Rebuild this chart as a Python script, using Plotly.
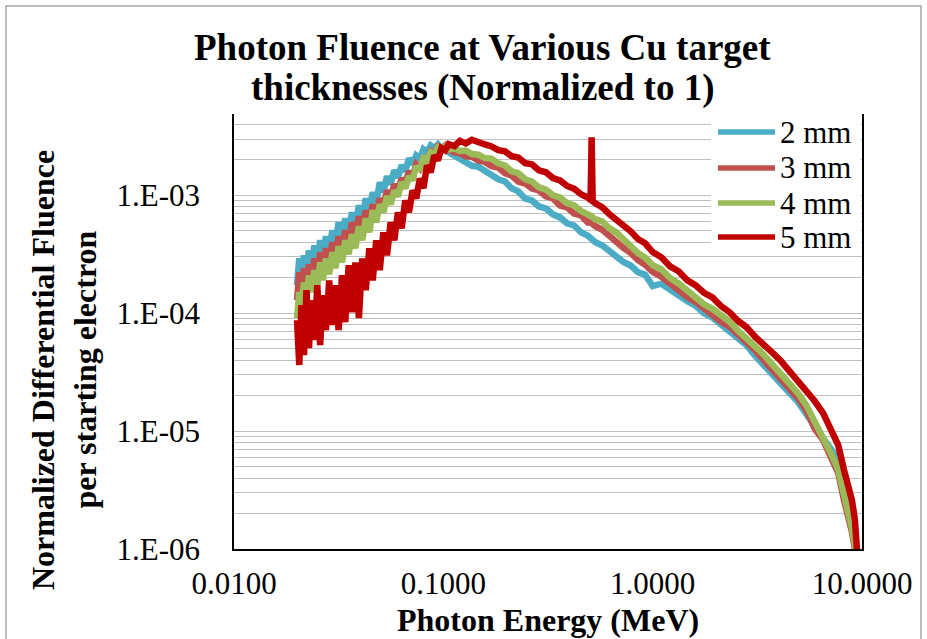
import plotly.graph_objects as go

# ---------------- data ----------------
energy_mev = [
    0.0200, 0.0205, 0.0210, 0.0216, 0.0222, 0.0228, 0.0235, 0.0242, 0.0250, 0.0258,
    0.0266, 0.0275, 0.0285, 0.0295, 0.0305, 0.0316, 0.0328, 0.0340, 0.0353, 0.0366,
    0.0380, 0.0395, 0.0410, 0.0426, 0.0443, 0.0460, 0.0478, 0.0497, 0.0517, 0.0538,
    0.0560, 0.0583, 0.0607, 0.0632, 0.0658, 0.0685, 0.0713, 0.0742, 0.0772, 0.0803,
    0.0836, 0.0870, 0.0905, 0.0942, 0.0980, 0.1020,
    0.106, 0.113, 0.120, 0.128, 0.137, 0.147, 0.158, 0.170, 0.183, 0.197,
    0.212, 0.228, 0.246, 0.265, 0.286, 0.309, 0.334, 0.361, 0.390, 0.421,
    0.455, 0.490, 0.505, 0.511, 0.517, 0.530, 0.575, 0.620, 0.670, 0.725,
    0.785, 0.850, 0.920, 1.00, 1.10, 1.21, 1.33, 1.46, 1.60, 1.76,
    1.93, 2.12, 2.33, 2.56, 2.81, 3.09, 3.39, 3.72, 4.09, 4.49,
    4.93, 5.41, 5.94, 6.52, 7.16, 7.70, 8.20, 8.60, 8.95, 9.25, 9.50,
]

fluence_2mm = [
    1.73e-4, 2.92e-4, 1.90e-4, 3.10e-4, 2.14e-4, 3.42e-4, 2.41e-4, 3.77e-4, 2.70e-4, 4.16e-4,
    3.04e-4, 4.49e-4, 3.42e-4, 5.05e-4, 3.84e-4, 5.91e-4, 4.32e-4, 6.38e-4, 4.86e-4, 7.18e-4,
    5.46e-4, 8.23e-4, 6.14e-4, 9.43e-4, 7.46e-4, 1.06e-3, 8.73e-4, 1.29e-3, 1.06e-3, 1.45e-3,
    1.24e-3, 1.63e-3, 1.42e-3, 1.80e-3, 1.60e-3, 2.06e-3, 1.83e-3, 2.18e-3, 2.06e-3, 2.46e-3,
    2.32e-3, 2.65e-3, 2.51e-3, 2.70e-3, 2.46e-3, 2.55e-3,
    2.32e-3, 2.18e-3, 2.02e-3, 1.93e-3, 1.78e-3, 1.75e-3, 1.61e-3, 1.53e-3, 1.37e-3, 1.31e-3,
    1.15e-3, 1.08e-3, 9.40e-4, 9.05e-4, 8.05e-4, 7.75e-4, 6.90e-4, 6.50e-4, 5.80e-4, 5.55e-4,
    4.85e-4, 4.55e-4, 4.32e-4, 4.24e-4, 4.16e-4, 4.02e-4, 3.75e-4, 3.36e-4, 3.08e-4, 2.72e-4,
    2.54e-4, 2.23e-4, 2.12e-4, 1.70e-4, 1.78e-4, 1.58e-4, 1.44e-4, 1.27e-4, 1.16e-4, 1.00e-4,
    9.20e-5, 7.95e-5, 7.15e-5, 6.05e-5, 5.35e-5, 4.35e-5, 3.68e-5, 3.00e-5, 2.58e-5, 2.12e-5,
    1.78e-5, 1.38e-5, 1.07e-5, 8.70e-6, 6.90e-6, 5.50e-6, 4.00e-6, 3.00e-6, 1.95e-6, 1.32e-6, 8.9e-7,
]

fluence_3mm = [
    1.29e-4, 2.23e-4, 1.51e-4, 2.41e-4, 1.70e-4, 2.60e-4, 1.90e-4, 2.92e-4, 2.14e-4, 3.29e-4,
    2.41e-4, 3.56e-4, 2.70e-4, 4.00e-4, 3.04e-4, 4.49e-4, 3.56e-4, 5.05e-4, 4.00e-4, 5.91e-4,
    4.49e-4, 6.64e-4, 5.25e-4, 7.46e-4, 5.91e-4, 8.39e-4, 6.90e-4, 9.43e-4, 8.07e-4, 1.10e-3,
    9.43e-4, 1.24e-3, 1.10e-3, 1.39e-3, 1.26e-3, 1.60e-3, 1.45e-3, 1.83e-3, 1.70e-3, 2.06e-3,
    1.98e-3, 2.36e-3, 2.27e-3, 2.60e-3, 2.51e-3, 2.65e-3,
    2.46e-3, 2.32e-3, 2.29e-3, 2.14e-3, 2.12e-3, 1.98e-3, 1.92e-3, 1.77e-3, 1.72e-3, 1.54e-3,
    1.47e-3, 1.31e-3, 1.26e-3, 1.14e-3, 1.10e-3, 9.80e-4, 9.40e-4, 8.20e-4, 7.90e-4, 7.00e-4,
    6.75e-4, 5.90e-4, 5.91e-4, 5.79e-4, 5.68e-4, 5.50e-4, 5.10e-4, 4.50e-4, 4.12e-4, 3.58e-4,
    3.25e-4, 2.83e-4, 2.58e-4, 2.24e-4, 2.04e-4, 1.78e-4, 1.58e-4, 1.38e-4, 1.25e-4, 1.09e-4,
    9.70e-5, 8.50e-5, 7.70e-5, 6.60e-5, 5.75e-5, 4.85e-5, 4.00e-5, 3.35e-5, 2.82e-5, 2.32e-5,
    1.92e-5, 1.51e-5, 1.05e-5, 8.40e-6, 5.90e-6, 4.40e-6, 2.60e-6, 1.95e-6, 1.40e-6, 1.00e-6, 7.4e-7,
]

fluence_4mm = [
    9.08e-5, 1.51e-4, 1.17e-4, 1.83e-4, 1.34e-4, 2.10e-4, 1.51e-4, 2.32e-4, 1.73e-4, 2.70e-4,
    1.90e-4, 2.92e-4, 2.14e-4, 3.29e-4, 2.41e-4, 3.70e-4, 2.70e-4, 4.16e-4, 3.16e-4, 4.67e-4,
    3.56e-4, 5.46e-4, 4.16e-4, 6.39e-4, 4.86e-4, 7.46e-4, 5.91e-4, 8.39e-4, 7.18e-4, 9.81e-4,
    8.39e-4, 1.10e-3, 9.81e-4, 1.29e-3, 1.15e-3, 1.45e-3, 1.34e-3, 1.76e-3, 1.63e-3, 2.06e-3,
    1.98e-3, 2.32e-3, 2.23e-3, 2.55e-3, 2.41e-3, 2.60e-3,
    2.46e-3, 2.50e-3, 2.38e-3, 2.40e-3, 2.24e-3, 2.21e-3, 2.07e-3, 2.05e-3, 1.87e-3, 1.79e-3,
    1.60e-3, 1.54e-3, 1.37e-3, 1.31e-3, 1.17e-3, 1.12e-3, 1.00e-3, 9.60e-4, 8.60e-4, 8.20e-4,
    7.35e-4, 7.00e-4, 6.77e-4, 6.64e-4, 6.51e-4, 6.30e-4, 6.00e-4, 5.28e-4, 4.85e-4, 4.18e-4,
    3.76e-4, 3.24e-4, 2.97e-4, 2.56e-4, 2.36e-4, 1.99e-4, 1.79e-4, 1.55e-4, 1.39e-4, 1.19e-4,
    1.09e-4, 9.50e-5, 8.50e-5, 7.10e-5, 6.20e-5, 5.20e-5, 4.45e-5, 3.70e-5, 3.10e-5, 2.56e-5,
    2.11e-5, 1.67e-5, 1.17e-5, 8.70e-6, 6.30e-6, 4.70e-6, 2.90e-6, 2.15e-6, 1.51e-6, 1.09e-6, 8.1e-7,
]

fluence_5mm = [
    8.74e-5, 3.64e-5, 1.17e-4, 4.42e-5, 1.57e-4, 5.07e-5, 1.29e-4, 5.92e-5, 1.73e-4, 5.37e-5,
    1.42e-4, 7.19e-5, 1.90e-4, 7.93e-5, 1.73e-4, 7.19e-5, 2.10e-4, 8.40e-5, 2.55e-4, 1.02e-4,
    2.70e-4, 9.08e-5, 2.92e-4, 1.57e-4, 3.56e-4, 1.90e-4, 4.16e-4, 2.32e-4, 4.86e-4, 3.10e-4,
    5.91e-4, 4.16e-4, 7.18e-4, 5.25e-4, 9.07e-4, 7.18e-4, 1.10e-3, 9.43e-4, 1.39e-3, 1.15e-3,
    1.80e-3, 1.57e-3, 2.18e-3, 1.98e-3, 2.51e-3, 2.41e-3,
    2.72e-3, 2.62e-3, 2.90e-3, 2.76e-3, 2.96e-3, 2.80e-3, 2.70e-3, 2.60e-3, 2.42e-3, 2.36e-3,
    2.15e-3, 2.09e-3, 1.87e-3, 1.83e-3, 1.63e-3, 1.57e-3, 1.40e-3, 1.34e-3, 1.20e-3, 1.14e-3,
    1.02e-3, 9.60e-4, 9.10e-4, 3.10e-3, 8.90e-4, 8.60e-4, 7.90e-4, 6.95e-4, 6.25e-4, 5.40e-4,
    4.95e-4, 4.27e-4, 3.92e-4, 3.30e-4, 2.98e-4, 2.50e-4, 2.27e-4, 1.91e-4, 1.73e-4, 1.49e-4,
    1.36e-4, 1.15e-4, 1.02e-4, 8.60e-5, 7.60e-5, 6.30e-5, 5.50e-5, 4.65e-5, 3.95e-5, 3.28e-5,
    2.72e-5, 2.22e-5, 1.80e-5, 1.42e-5, 1.02e-5, 7.60e-6, 4.70e-6, 3.60e-6, 2.60e-6, 1.77e-6, 8.9e-7,
]

series_names = ["2 mm", "3 mm", "4 mm", "5 mm"]
series_values = [fluence_2mm, fluence_3mm, fluence_4mm, fluence_5mm]
series_colors = ["#4BACC6", "#C0504D", "#9BBB59", "#C00000"]

x_tick_vals = [0.01, 0.1, 1, 10]
x_tick_text = ["0.0100", "0.1000", "1.0000", "10.0000"]
y_tick_vals = [1e-6, 1e-5, 1e-4, 1e-3]
y_tick_text = ["1.E-06", "1.E-05", "1.E-04", "1.E-03"]

title_lines = ["Photon Fluence at Various Cu target", "thicknesses (Normalized to 1)"]
y_title_lines = ["Normalized Differential Fluence", "per starting electron"]
x_title = "Photon Energy (MeV)"

FONT = "Liberation Serif, Times New Roman, serif"

# ---------------- figure ----------------
fig = go.Figure()
for name, vals, col in zip(series_names, series_values, series_colors):
    fig.add_trace(go.Scatter(
        x=energy_mev, y=vals, mode="lines", name=name,
        line=dict(color=col, width=6.5), showlegend=False,
    ))

fig.update_layout(
    width=927, height=639, autosize=False,
    margin=dict(l=234, r=65, t=114, b=90),
    paper_bgcolor="white", plot_bgcolor="white",
    font=dict(family=FONT, color="black", size=31),
    xaxis=dict(
        type="log", range=[-2, 1],
        tickvals=x_tick_vals, ticktext=x_tick_text,
        ticks="", showgrid=False, zeroline=False,
        showline=True, linecolor="black", linewidth=1.5,
        tickfont=dict(family=FONT, size=31, color="black"),
        ticklabelstandoff=6,
    ),
    xaxis2=dict(
        type="log", range=[-2, 1], overlaying="x", side="top",
        showticklabels=False, ticks="", showgrid=False, zeroline=False,
        showline=True, linecolor="#8C8C8C", linewidth=1,
        minor=dict(dtick="D1", ticks="inside", ticklen=5,
                   tickcolor="#8C8C8C", tickwidth=1, showgrid=False),
    ),
    yaxis=dict(
        type="log", range=[-6, -2.31],
        tickvals=y_tick_vals, ticktext=y_tick_text,
        ticks="", showgrid=True, gridcolor="#BFBFBF", gridwidth=1,
        zeroline=False, showline=True, linecolor="black", linewidth=1.5,
        mirror=True,
        minor=dict(dtick="D1", showgrid=True, gridcolor="#BFBFBF", gridwidth=1),
        tickfont=dict(family=FONT, size=31, color="black"),
        ticklabelstandoff=26,
    ),
)

# outer chart border
fig.add_shape(type="rect", xref="paper", yref="paper",
              x0=-0.363, x1=1.094, y0=-0.4, y1=1.248,
              line=dict(color="#A6A6A6", width=1.5), fillcolor="rgba(0,0,0,0)", layer="below")

# titles
def centered(text, x, y, size, angle=0):
    fig.add_annotation(text=text, xref="paper", yref="paper", x=x, y=y,
                       xanchor="center", yanchor="middle", textangle=angle,
                       showarrow=False, font=dict(family=FONT, size=size, color="black"))

centered("<b>%s</b>" % title_lines[0], 0.395, 1.152, 37)
centered("<b>%s</b>" % title_lines[1], 0.395, 1.059, 37)
centered("<b>%s</b>" % y_title_lines[0], -0.304, 0.4115, 32, -90)
centered("<b>%s</b>" % y_title_lines[1], -0.238, 0.4115, 32, -90)
centered("<b>%s</b>" % x_title, 0.5, -0.163, 32)

# legend (inside plot, top right, white box)
fig.add_shape(type="rect", xref="paper", yref="paper",
              x0=0.7596, x1=0.998, y0=0.6736, y1=0.998,
              line=dict(width=0), fillcolor="white", layer="above")
legend_y = [0.9586, 0.8759, 0.7954, 0.7172]
for name, col, ly in zip(series_names, series_colors, legend_y):
    fig.add_shape(type="line", xref="paper", yref="paper",
                  x0=0.7707, x1=0.8615, y0=ly, y1=ly,
                  line=dict(color=col, width=5.5), layer="above")
    fig.add_annotation(text=name, xref="paper", yref="paper", x=0.8662, y=ly,
                       xanchor="left", yanchor="middle", showarrow=False,
                       font=dict(family=FONT, size=31, color="black"))

fig.write_html("out.html")
